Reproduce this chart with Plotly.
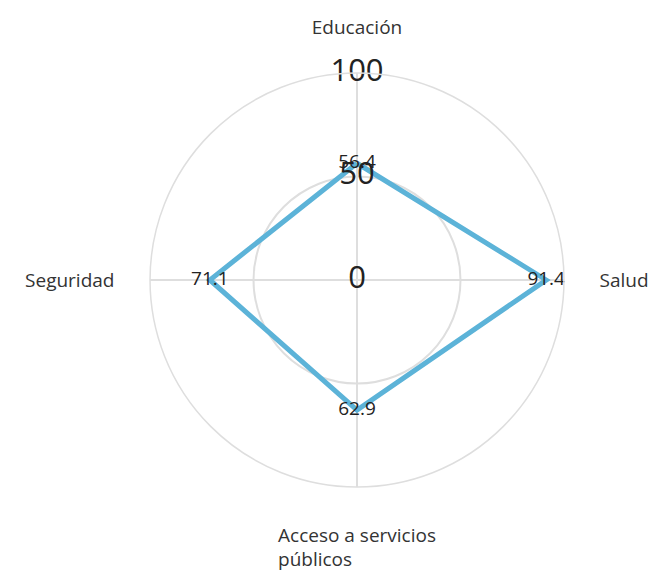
import plotly.graph_objects as go

# Data
categories = [
    "Educación",
    "Salud",
    "Acceso a servicios<br>públicos" + "\u00a0" * 17,
    "Seguridad",
]
values = [56.4, 91.4, 62.9, 71.1]
radial_ticks = [0, 50, 100]

line_color = "#5cb3d8"
grid_color = "#dedede"
font_family = "Open Sans, Noto Sans, sans-serif"

# close the loop
r_closed = values + values[:1]
theta_closed = categories + categories[:1]

fig = go.Figure()

fig.add_trace(go.Scatterpolar(
    r=r_closed,
    theta=theta_closed,
    mode="lines",
    line=dict(color=line_color, width=5),
    hoverinfo="skip",
    showlegend=False,
))

# radial tick labels drawn centred on the axis
fig.add_trace(go.Scatterpolar(
    r=radial_ticks,
    theta=[categories[0]] * len(radial_ticks),
    mode="text",
    text=[str(t) for t in radial_ticks],
    textposition="middle center",
    textfont=dict(size=31, color="#222222", family=font_family),
    hoverinfo="skip",
    showlegend=False,
))

# value labels
fig.add_trace(go.Scatterpolar(
    r=values,
    theta=categories,
    mode="text",
    text=[f"{v:.1f}" for v in values],
    textposition="middle center",
    textfont=dict(size=19, color="#222222", family=font_family),
    hoverinfo="skip",
    showlegend=False,
))

fig.update_layout(
    width=645,
    height=566,
    margin=dict(l=0, r=0, t=0, b=0),
    paper_bgcolor="white",
    plot_bgcolor="white",
    font=dict(family=font_family, color="#333333"),
    polar=dict(
        domain=dict(x=[0.2202, 0.8620], y=[0.1537, 0.8852]),
        bgcolor="white",
        radialaxis=dict(
            range=[0, 100],
            tickvals=radial_ticks,
            showticklabels=False,
            ticks="",
            showline=False,
            gridcolor=grid_color,
            gridwidth=1.5,
        ),
        angularaxis=dict(
            rotation=90,
            direction="clockwise",
            gridcolor=grid_color,
            gridwidth=1.5,
            linecolor=grid_color,
            linewidth=1.5,
            ticks="outside",
            ticklen=31,
            tickcolor="rgba(0,0,0,0)",
            tickfont=dict(size=19, color="#333333", family=font_family),
        ),
    ),
)

fig.write_html("out.html")
